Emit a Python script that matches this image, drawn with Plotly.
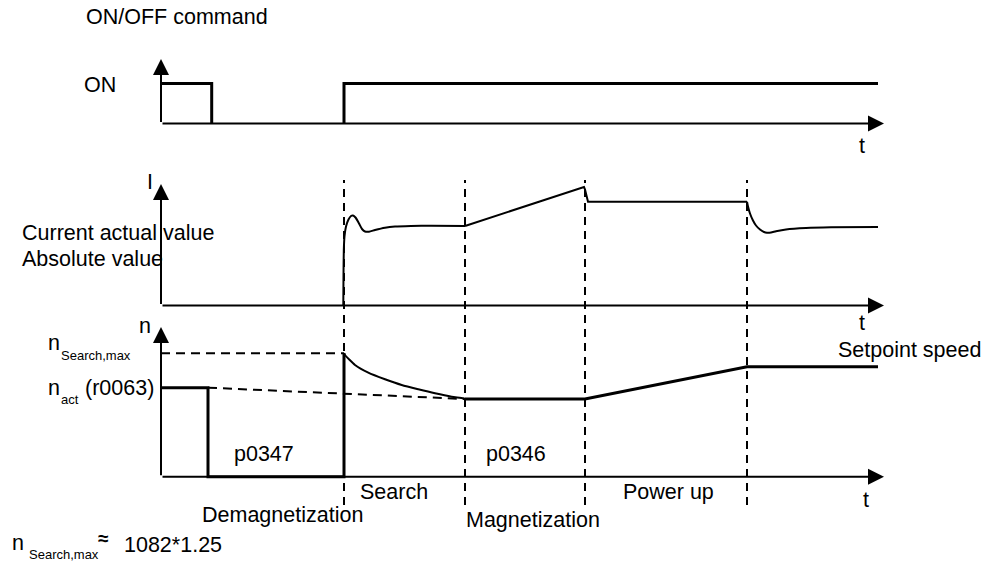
import plotly.graph_objects as go

W, H = 987, 562
FONT = "Liberation Sans, Arial, sans-serif"

# phase boundaries on the common time axis (0 = axis origin)
t_demag = 4.7
t_off = 5.07
t_search = 18.3
t_magnet = 30.4
t_powerup = 42.4
t_ramp_end = 58.6
t_end = 71.7
t_axis_end = 72.3
phase_marks = [t_search, t_magnet, t_powerup, t_ramp_end]

# ON/OFF command (0 = OFF, 1 = ON)
cmd_pulse_t = [0, t_off, t_off]
cmd_pulse_v = [1, 1, 0]
cmd_on_t = [t_search, t_search, t_end]
cmd_on_v = [0, 1, 1]

# current actual value (absolute)
cur_rise_t = [18.23, 18.25, 18.28, 18.35, 18.5, 18.75, 19.0, 19.2, 19.45, 19.8,
              20.1, 20.4, 20.8, 21.4, 22.4, 23.4, 25.0, 27.0, t_magnet]
cur_rise_v = [0, 3.0, 5.5, 6.9, 7.9, 8.6, 8.95, 9.0, 8.8, 8.2,
              7.65, 7.4, 7.38, 7.55, 7.78, 7.9, 7.95, 7.97, 7.95]
cur_ramp_t = [t_magnet, 42.3, 42.4, 42.7, t_ramp_end]
cur_ramp_v = [7.95, 11.85, 11.6, 10.38, 10.38]
cur_fall_t = [t_ramp_end, 58.7, 58.9, 59.2, 59.5, 59.9, 60.3, 60.6, 61.0, 61.5,
              62.5, 64.5, 67.0, t_end]
cur_fall_v = [10.38, 9.9, 9.2, 8.5, 8.0, 7.6, 7.35, 7.28, 7.3, 7.42,
              7.6, 7.75, 7.82, 7.85]

# speed
n_act = 8.9
n_search_max = 12.34
n_found = 7.77
n_set = 11.0
speed_t = [0, t_demag, t_demag, t_search, t_search]
speed_v = [n_act, n_act, 0, 0, n_search_max]
search_t = [t_search, 18.4, 19.4, 20.73, 22.4, 24.07, 25.73, 27.4, 29.07, 30.23, t_magnet]
search_v = [n_search_max, 12.17, 11.17, 10.4, 9.74, 9.17, 8.74, 8.34, 8.0, 7.84, n_found]
powerup_t = [t_magnet, t_powerup, t_ramp_end, t_end]
powerup_v = [n_found, n_found, n_set, n_set]

# axis arrow tips (value units of each panel)
tip_cmd, tip_cur, tip_speed = 1.61, 12.15, 14.97


def px_x(px):
    return px / W


def px_y(py):
    return 1 - py / H


def y_range(zero_px, px_per_unit):
    return [-(H - zero_px) / px_per_unit, zero_px / px_per_unit]


fig = go.Figure()


def line(x, y, yaxis, width, shape="linear", dash="solid"):
    fig.add_trace(go.Scatter(
        x=x, y=y, yaxis=yaxis, mode="lines",
        line=dict(color="black", width=width, shape=shape, smoothing=0.6, dash=dash),
        hoverinfo="skip", showlegend=False
    ))


# panel 1: ON/OFF command
line(cmd_pulse_t, cmd_pulse_v, "y", 3)
line(cmd_on_t, cmd_on_v, "y", 3)

# panel 2: current
line(cur_rise_t, cur_rise_v, "y2", 2, "spline")
line(cur_ramp_t, cur_ramp_v, "y2", 2)
line(cur_fall_t, cur_fall_v, "y2", 2, "spline")

# panel 3: speed
line([0, t_search], [n_search_max, n_search_max], "y3", 2, dash="9px,6px")
line([t_demag, t_magnet], [n_act, n_found], "y3", 2, dash="9px,6px")
line(speed_t, speed_v, "y3", 3)
line(search_t, search_v, "y3", 2, "spline")
line(powerup_t, powerup_v, "y3", 3)

# phase separators
for t in phase_marks:
    fig.add_shape(type="line", xref="x", yref="paper", x0=t, x1=t,
                  y0=px_y(505), y1=px_y(180),
                  line=dict(color="black", width=2, dash="8px,6px"))

annotations = []

# axes with arrow heads
for yref, tip in [("y", tip_cmd), ("y2", tip_cur), ("y3", tip_speed)]:
    for x, y in [(0, tip), (t_axis_end, 0)]:
        annotations.append(dict(
            x=x, y=y, ax=0, ay=0, xref="x", yref=yref, axref="x", ayref=yref,
            text="", showarrow=True, arrowhead=2, arrowsize=1.6,
            arrowwidth=2, arrowcolor="black", standoff=0, startstandoff=0
        ))


def label(text, px, py, size=21.5, bold=False):
    annotations.append(dict(
        x=px_x(px), y=px_y(py), xref="paper", yref="paper",
        xanchor="left", yanchor="middle", showarrow=False,
        text=f"<b>{text}</b>" if bold else text,
        font=dict(family=FONT, size=size, color="black")
    ))


label("ON/OFF command", 84, 17)
label("ON", 82, 85)
label("t", 857, 146)
label("I", 145, 182)
label("Current actual value", 20, 233)
label("Absolute value", 20, 259)
label("t", 857, 323)
label("n", 137, 326)
label("n", 46, 343)
label("Search,max", 59, 355, 13)
label("n", 46, 388)
label("act", 59, 399, 13)
label("(r0063)", 83, 388)
label("p0347", 232, 454)
label("p0346", 484, 454)
label("Setpoint speed", 836, 350)
label("Search", 358, 492)
label("Power up", 621, 492)
label("t", 861, 500)
label("Demagnetization", 200, 515)
label("Magnetization", 464, 520)
label("n", 10, 543)
label("Search,max", 27, 554, 13)
label("≈", 96, 538, 19, bold=True)
label("1082*1.25", 122, 545)

fig.update_layout(
    width=W, height=H,
    margin=dict(l=0, r=0, t=0, b=0),
    paper_bgcolor="white", plot_bgcolor="white",
    showlegend=False,
    xaxis=dict(range=[-16.1, 82.6], visible=False, fixedrange=True),
    yaxis=dict(range=y_range(123.5, 40), visible=False, fixedrange=True),
    yaxis2=dict(range=y_range(305.5, 10), visible=False, overlaying="y", fixedrange=True),
    yaxis3=dict(range=y_range(476.7, 10), visible=False, overlaying="y", fixedrange=True),
    annotations=annotations
)

# the page's default body margin would push the figure 8px off the window
fig.write_html("out.html", config={"displayModeBar": False},
               post_script="document.body.style.margin = '0';")
